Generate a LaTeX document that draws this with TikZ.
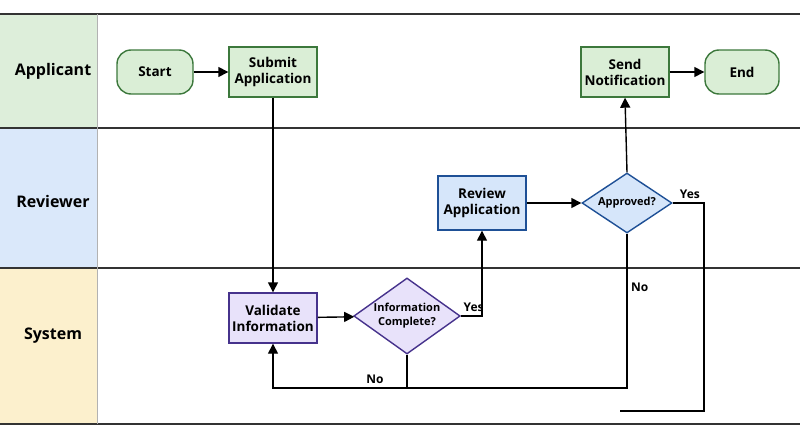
\documentclass[tikz,border=0pt]{standalone}
\usepackage{fontspec}
\setmainfont{Open Sans}
\usetikzlibrary{shapes.geometric, arrows.meta, positioning}
\definecolor{lanegreen}{RGB}{221, 238, 218}
\definecolor{laneblue}{RGB}{218, 232, 250}
\definecolor{laneyellow}{RGB}{252, 240, 205}
\definecolor{boxgreen}{RGB}{218, 238, 214}
\definecolor{edgegreen}{RGB}{60, 120, 60}
\definecolor{boxblue}{RGB}{214, 230, 250}
\definecolor{edgeblue}{RGB}{30, 80, 150}
\definecolor{boxpurple}{RGB}{232, 226, 250}
\definecolor{edgepurple}{RGB}{70, 50, 140}
\tikzset{
  lanelabel/.style={font=\fontsize{16}{18}\selectfont\bfseries},
  task/.style={rectangle, draw, line width=1.4pt, minimum width=88pt, minimum height=50pt, align=center, font=\fontsize{13.5}{16}\selectfont\bfseries},
  term/.style={rectangle, rounded corners=14pt, draw=edgegreen, fill=boxgreen, line width=1.4pt, minimum width=76pt, minimum height=44pt, font=\fontsize{13.5}{16}\selectfont\bfseries},
  decision/.style={diamond, draw, line width=1.4pt, aspect=1.4, inner sep=1pt, align=center, font=\fontsize{11}{14}\selectfont\bfseries},
  flow/.style={line width=1.4pt, -{Triangle[length=10pt,width=10pt]}},
  tag/.style={font=\fontsize{12}{14}\selectfont\bfseries}
}
\begin{document}
\begin{tikzpicture}[x=1pt, y=-1pt]
  \useasboundingbox (0,0) rectangle (800,439);
  % lanes
  \fill[lanegreen] (0,14) rectangle (97,128);
  \fill[laneblue] (0,128) rectangle (97,268);
  \fill[laneyellow] (0,268) rectangle (97,424);
  \draw[line width=1.3pt, black!80] (0,14) -- (800,14);
  \draw[line width=1.3pt, black!80] (0,128) -- (800,128);
  \draw[line width=1.3pt, black!80] (0,268) -- (800,268);
  \draw[line width=1.3pt, black!80] (0,424) -- (800,424);
  \draw[black!30] (97,14) -- (97,424);
  \node[lanelabel] (lapp) at (53,71) {Applicant};
  \node[lanelabel] (lrev) at (53,201) {Reviewer};
  \node[lanelabel] (lsys) at (53,336) {System};

  % applicant
  \node[term] (start) at (155,72) {Start};
  \node[task, draw=edgegreen, fill=boxgreen] (submit) at (273,72) {Submit\\Application};
  \node[task, draw=edgegreen, fill=boxgreen] (notify) at (625,72) {Send\\Notification};
  \node[term, minimum width=74pt] (end) at (742,72) {End};

  % reviewer
  \node[task, draw=edgeblue, fill=boxblue, minimum height=54pt] (review) at (482,203) {Review\\Application};
  \node[decision, draw=edgeblue, fill=boxblue, minimum width=90pt, minimum height=60pt] (approved) at (627,203) {Approved?};

  % system
  \node[task, draw=edgepurple, fill=boxpurple] (validate) at (273,318) {Validate\\Information};
  \node[decision, draw=edgepurple, fill=boxpurple, minimum width=98pt, minimum height=74pt] (complete) at (407,316) {Information\\Complete?};

  \coordinate (nojoin) at (627,388);
  \coordinate (yesright) at (704,203);
  \coordinate (yesend) at (620,411);

  % connectors
  \draw[flow] (start) -- (submit);
  \draw[flow] (submit) -- (validate);
  \draw[flow] (validate) -- (complete);
  \draw[flow] (complete.east) -| node[tag, pos=0.3, above] {Yes} (review.south);
  \draw[flow] (review) -- (approved);
  \draw[flow] (approved.north) -- (notify.south);
  \draw[flow] (notify) -- (end);
  \draw[flow] (complete.south) |- node[tag, pos=0.62, above] {No} (nojoin -| validate.south) -- (validate.south);
  \draw[line width=1.4pt] (approved.south) -- node[tag, pos=0.35, right] {No} (nojoin) -- (complete.south |- nojoin);
  \draw[line width=1.4pt] (approved.east) -- node[tag, pos=0.55, above] {Yes} (yesright) |- (yesend);
\end{tikzpicture}
\end{document}
